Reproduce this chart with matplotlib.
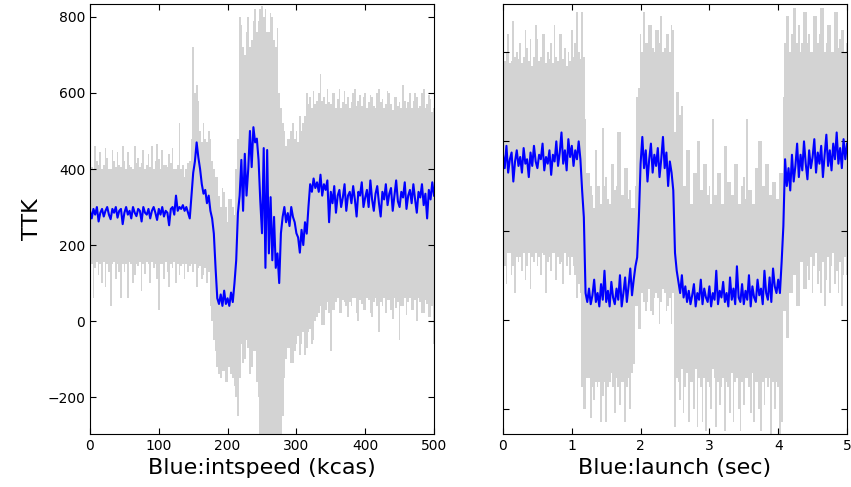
import numpy as np
import matplotlib
matplotlib.use("Agg")
import matplotlib.pyplot as plt

# left panel: Blue:intspeed (kcas), everything sampled every 2.5 kcas
speed_mean = [
    290, 270, 295, 280, 300, 262, 285, 295, 275, 290,
    300, 280, 268, 295, 285, 300, 272, 290, 295, 255,
    285, 300, 280, 290, 270, 300, 285, 276, 295, 290,
    262, 300, 285, 280, 295, 270, 290, 300, 285, 266,
    295, 280, 300, 275, 290, 285, 252, 295, 300, 280,
    330, 290, 300, 295, 305, 290, 300, 285, 270, 330,
    390, 420, 470, 430, 400, 360, 335, 345, 310, 330,
    290, 270, 230, 140, 60, 45, 70, 40, 80, 45,
    60, 40, 75, 50, 100, 160, 284, 330, 424, 290,
    440, 330, 400, 500, 405, 510, 470, 480, 424, 316,
    231, 455, 140, 450, 178, 326, 160, 274, 140, 178,
    100, 231, 274, 300, 260, 284, 250, 300, 274, 260,
    231, 220, 180, 240, 200, 260, 230, 300, 360, 340,
    375, 350, 365, 340, 385, 330, 360, 345, 370, 260,
    340, 310, 355, 285, 330, 345, 300, 325, 360, 290,
    330, 340, 310, 355, 320, 275, 340, 330, 365, 300,
    325, 345, 300, 370, 320, 290, 335, 355, 310, 275,
    340, 320, 360, 305, 335, 350, 290, 330, 370, 315,
    300, 340, 325, 365, 295, 330, 345, 310, 360, 320,
    285, 340, 325, 360, 305, 335, 270, 345, 320, 365,
    330,
]
speed_hi = [
    440, 405, 400, 460, 420, 410, 445, 400, 410, 455,
    430, 400, 400, 450, 420, 405, 445, 410, 405, 460,
    420, 400, 445, 410, 405, 400, 460, 415, 430, 405,
    415, 450, 400, 410, 440, 405, 460, 400, 420, 465,
    425, 400, 450, 410, 410, 405, 440, 415, 455, 400,
    400, 410, 520, 400, 410, 380, 400, 415, 420, 480,
    720, 600, 620, 580, 500, 470, 520, 480, 470, 500,
    480, 420, 400, 380, 380, 330, 300, 350, 340, 300,
    260, 320, 320, 300, 280, 400, 480, 800, 780, 720,
    700, 760, 800, 720, 740, 790, 820, 760, 790, 820,
    830, 800, 820, 760, 760, 810, 800, 740, 720, 770,
    600, 560, 520, 500, 460, 480, 480, 500, 520, 480,
    500, 470, 540, 500, 520, 540, 600, 570, 590, 560,
    605, 570, 580, 600, 650, 580, 590, 570, 610, 575,
    570, 600, 600, 560, 585, 610, 560, 575, 605, 570,
    590, 560, 575, 600, 610, 565, 580, 595, 565, 590,
    600, 560, 575, 595, 590, 565, 560, 600, 610, 575,
    585, 560, 570, 605, 600, 570, 555, 590, 590, 565,
    575, 560, 620, 580, 560, 575, 600, 560, 580, 600,
    590, 560, 565, 600, 610, 560, 570, 595, 585, 550,
    560,
]
speed_lo = [
    100, 150, 60, 140, 155, 120, 150, 100, 155, 90,
    150, 130, 40, 150, 155, 110, 150, 130, 60, 150,
    130, 150, 60, 155, 150, 100, 120, 150, 145, 155,
    80, 150, 125, 155, 150, 100, 155, 140, 150, 110,
    30, 150, 150, 110, 155, 130, 90, 150, 140, 155,
    100, 150, 120, 145, 150, 110, 150, 130, 145, 150,
    130, 150, 90, 140, 145, 110, 120, 140, 100, 130,
    40, 0, -50, -80, -120, -140, -150, -130, -130, -160,
    -160, -120, -140, -150, -170, -200, -250, -150, -60, -110,
    -100, -50, -70, -140, -120, -80, -80, -160, -200, -320,
    -320, -320, -320, -320, -320, -320, -320, -320, -320, -320,
    -320, -300, -250, -150, -100, -70, -70, -110, -110, -80,
    -60, -40, -90, -60, -30, -90, -70, -30, -20, -60,
    -50, 0, 10, 20, 40, -10, -10, 30, 50, 20,
    -80, 30, 30, 50, 60, 20, 20, 55, 50, 40,
    10, 50, 40, 60, 60, 20, 0, 55, 45, 30,
    30, 60, 55, 20, 10, 50, 60, 40, -30, 50,
    40, 60, 20, 55, 55, 30, 5, 60, 35, 50,
    -50, 40, 40, 60, 15, 50, 60, 30, 30, 55,
    0, 60, 50, 20, 20, 55, 45, 10, 10, 40,
    -60,
]

# right panel: Blue:launch (sec), everything sampled every 0.025 s
launch_mean = [
    370, 340, 390, 330, 360, 375, 310, 355, 380, 345,
    365, 330, 385, 350, 360, 320, 375, 345, 390, 355,
    340, 370, 360, 395, 335, 365, 350, 380, 325, 370,
    355, 400, 345, 375, 420, 350, 380, 335, 405, 365,
    390, 345, 380, 360, 400, 360, 290, 230, 60, 40,
    70, 35, 55, 90, 40, 60, 30, 80, 45, 110,
    40, 65, 30, 85, 50, 35, 70, 45, 100, 30,
    60, 95, 40, 75, 115, 55, 90, 120, 140, 230,
    350, 410, 340, 380, 310, 360, 395, 330, 370, 345,
    385, 320, 360, 410, 340, 375, 300, 355, 330, 290,
    150, 110, 85, 60, 100, 50, 75, 40, 65, 35,
    55, 80, 30, 60, 45, 90, 35, 70, 50, 40,
    75, 30, 60, 45, 110, 35, 65, 50, 85, 40,
    60, 30, 95, 45, 70, 35, 120, 50, 40, 80,
    35, 65, 45, 100, 30, 75, 50, 40, 90, 55,
    70, 35, 110, 60, 45, 95, 40, 115, 75, 60,
    90, 60, 130, 210, 360, 300, 340, 290, 370, 310,
    345, 395, 320, 370, 335, 400, 350, 315, 380, 340,
    365, 405, 330, 375, 350, 390, 320, 370, 415, 345,
    380, 335, 395, 360, 420, 350, 385, 340, 405, 360,
    395,
]
launch_hi = [
    610, 580, 600, 640, 575, 580, 670, 590, 600, 585,
    620, 575, 590, 650, 610, 580, 630, 570, 590, 660,
    630, 580, 590, 640, 640, 575, 600, 585, 620, 575,
    660, 590, 580, 640, 640, 585, 610, 570, 600, 580,
    650, 590, 620, 690, 600, 585, 690, 590, 450, 330,
    330, 300, 280, 250, 380, 300, 300, 260, 430, 300,
    320, 270, 260, 350, 350, 290, 300, 420, 420, 280,
    280, 340, 340, 270, 290, 250, 250, 300, 500, 520,
    640, 600, 690, 620, 620, 660, 660, 610, 600, 650,
    650, 620, 680, 600, 610, 640, 640, 600, 660, 650,
    420, 510, 510, 460, 480, 300, 300, 380, 380, 260,
    260, 330, 330, 400, 400, 290, 290, 350, 350, 280,
    300, 260, 450, 280, 280, 330, 330, 260, 260, 390,
    390, 310, 310, 280, 280, 350, 350, 260, 260, 300,
    320, 270, 450, 290, 290, 260, 260, 340, 340, 400,
    400, 300, 300, 350, 350, 280, 280, 310, 310, 270,
    270, 330, 330, 500, 620, 680, 680, 600, 640, 700,
    700, 620, 660, 600, 620, 690, 690, 620, 640, 600,
    600, 680, 680, 620, 640, 700, 700, 600, 620, 660,
    660, 600, 600, 690, 690, 610, 630, 650, 650, 600,
    620,
]
launch_lo = [
    130, 120, 80, 150, 150, 100, 120, 60, 140, 130,
    140, 110, 150, 90, 120, 150, 70, 140, 130, 150,
    120, 140, 100, 150, 145, 60, 130, 140, 110, 150,
    150, 90, 140, 125, 130, 80, 150, 120, 140, 100,
    140, 120, 100, 50, 80, 60, -150, -200, -200, -130,
    -130, -220, -150, -180, -140, -150, -140, -230, -170, -140,
    -230, -150, -140, -120, -150, -210, -130, -150, -190, -140,
    -140, -230, -150, -130, -200, -120, -100, 30, 30, -20,
    -20, 60, 40, 20, 40, 70, 20, 10, 50, 60,
    50, -10, 40, 70, 60, 20, 30, 50, -10, 60,
    -240, -130, -140, -180, -110, -210, -150, -120, -230, -140,
    -140, -200, -110, -240, -130, -150, -230, -130, -250, -140,
    -150, -200, -110, -130, -240, -140, -190, -150, -130, -250,
    -140, -150, -210, -120, -230, -140, -130, -200, -250, -140,
    -190, -130, -130, -150, -210, -120, -230, -140, -140, -200,
    -250, -140, -190, -130, -150, -130, -260, -140, -200, -140,
    -150, -260, -230, 20, 20, -40, -40, 60, 60, 100,
    100, 30, 30, 130, 130, 70, 70, 120, 90, 140,
    60, 120, 150, 80, 110, 60, 130, 30, 90, 140,
    60, 120, 150, 80, 110, 60, 130, 30, 100, 140,
    100,
]

plt.rcParams['xtick.direction'] = 'in'
plt.rcParams['ytick.direction'] = 'in'
plt.rcParams['xtick.top'] = True
plt.rcParams['ytick.right'] = True
plt.rcParams['xtick.major.size'] = 4
plt.rcParams['ytick.major.size'] = 4
plt.rcParams['font.size'] = 10

fig = plt.figure(figsize=(8.51, 4.87), dpi=100)
ax1 = fig.add_axes([90/851, 53/487, 344/851, 430/487])
ax2 = fig.add_axes([503/851, 53/487, 344/851, 430/487])

def panel(ax, xmax, mean, hi, lo):
    xg = np.linspace(0, xmax, len(hi))
    xm = np.linspace(0, xmax, len(mean))
    ax.fill_between(xg, lo, hi, step='mid', color='lightgray', lw=0)
    ax.plot(xm, mean, color='b', lw=1.5)
    ax.set_xlim(0, xmax)

panel(ax1, 500, speed_mean, speed_hi, speed_lo)
ax1.set_ylim(-297, 834)
ax1.set_yticks([-200, 0, 200, 400, 600, 800])
ax1.set_xticks([0, 100, 200, 300, 400, 500])
ax1.set_xlabel('Blue:intspeed (kcas)', fontsize=16)
ax1.set_ylabel('TTK', fontsize=16)

panel(ax2, 5, launch_mean, launch_hi, launch_lo)
ax2.set_ylim(-256, 708)
ax2.set_yticks([-200, 0, 200, 400, 600])
ax2.set_yticklabels([])
ax2.set_xticks([0, 1, 2, 3, 4, 5])
ax2.set_xlabel('Blue:launch (sec)', fontsize=16)

fig.savefig('out.png', dpi=100)
